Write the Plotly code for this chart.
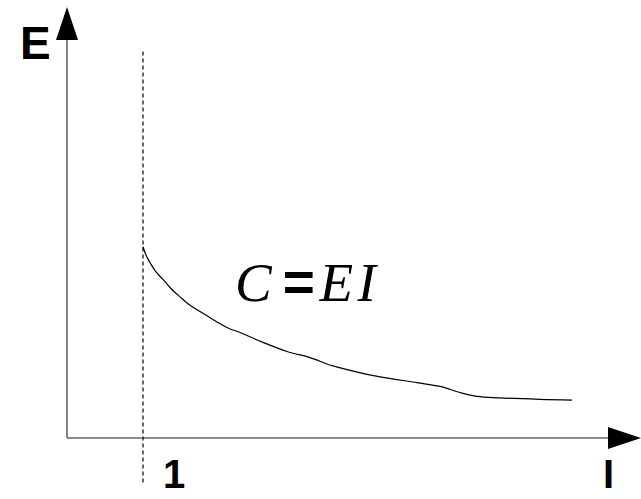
import plotly.graph_objects as go

# Curve C = E*I (intensity I on x, E on y), read point by point
I_vals = [1.000, 1.039, 1.092, 1.171, 1.263, 1.368, 1.487, 1.592, 1.711, 1.842,
          1.974, 2.118, 2.276, 2.579, 2.895, 3.197, 3.500, 3.947, 4.158, 4.605,
          4.908, 5.171, 5.395, 5.697, 6.224, 6.645]
E_vals = [2.52, 2.41, 2.31, 2.19, 2.09, 1.97, 1.86, 1.77, 1.69, 1.61,
          1.53, 1.45, 1.39, 1.26, 1.14, 1.06, 0.95, 0.84, 0.80, 0.73,
          0.68, 0.60, 0.55, 0.53, 0.51, 0.50]

# Marker line at I = 1
I_mark = 1.0
mark_span = [-0.586, 5.11]

# Axis extents (arrow tips) and view window
I_tip, E_tip = 7.553, 5.678
x_view = [-0.8816, 7.5526]
y_view = [-0.8026, 5.7697]

UNIT = 76.0                      # pixels per data unit
ARROW_LEN = 33 / UNIT
ARROW_HALF = 11 / UNIT
AXIS_COLOR = "#666666"

fig = go.Figure()

# axes
fig.add_trace(go.Scatter(x=[0, 0], y=[0, E_tip - ARROW_LEN], mode="lines",
                         line=dict(color=AXIS_COLOR, width=1.6), hoverinfo="skip"))
fig.add_trace(go.Scatter(x=[0, I_tip - ARROW_LEN], y=[0, 0], mode="lines",
                         line=dict(color=AXIS_COLOR, width=1.6), hoverinfo="skip"))

# arrowheads
fig.add_trace(go.Scatter(
    x=[-ARROW_HALF, ARROW_HALF, 0, -ARROW_HALF],
    y=[E_tip - ARROW_LEN, E_tip - ARROW_LEN, E_tip, E_tip - ARROW_LEN],
    mode="lines", fill="toself", fillcolor="black",
    line=dict(color="black", width=0), hoverinfo="skip"))
fig.add_trace(go.Scatter(
    x=[I_tip - ARROW_LEN, I_tip - ARROW_LEN, I_tip, I_tip - ARROW_LEN],
    y=[-ARROW_HALF, ARROW_HALF, 0, -ARROW_HALF],
    mode="lines", fill="toself", fillcolor="black",
    line=dict(color="black", width=0), hoverinfo="skip"))

# dashed marker at I = 1
fig.add_trace(go.Scatter(x=[I_mark, I_mark], y=mark_span, mode="lines",
                         line=dict(color="black", width=1.2, dash="4px,3px"),
                         hoverinfo="skip"))

# the curve
fig.add_trace(go.Scatter(x=I_vals, y=E_vals, mode="lines",
                         line=dict(color="black", width=1.2, shape="spline"),
                         hoverinfo="skip"))

label_font = dict(family="Liberation Sans", size=46, color="black")
small_font = dict(family="Liberation Sans", size=40, color="black")
fig.add_annotation(x=-0.41, y=5.2, text="<b>E</b>", showarrow=False,
                   xanchor="center", yanchor="middle", font=label_font)
fig.add_annotation(x=I_mark + 0.41, y=-0.47, text="<b>1</b>", showarrow=False,
                   xanchor="center", yanchor="middle", font=small_font)
fig.add_annotation(x=7.125, y=-0.47, text="<b>I</b>", showarrow=False,
                   xanchor="center", yanchor="middle", font=small_font)

fig.add_annotation(
    x=2.18, y=2.06,
    text=("<i>C</i>&#8201;<span style='font-family:Liberation Sans'><b>=</b></span>"
          "&#8202;<i>E&#8202;I</i>"),
    showarrow=False, xanchor="left", yanchor="middle",
    font=dict(family="Liberation Serif", size=55, color="black"))

fig.update_layout(
    width=641, height=499,
    margin=dict(l=0, r=0, t=0, b=0),
    paper_bgcolor="white", plot_bgcolor="white",
    showlegend=False,
    xaxis=dict(range=x_view, visible=False, fixedrange=True),
    yaxis=dict(range=y_view, visible=False, fixedrange=True),
)

fig.write_html("out.html")
